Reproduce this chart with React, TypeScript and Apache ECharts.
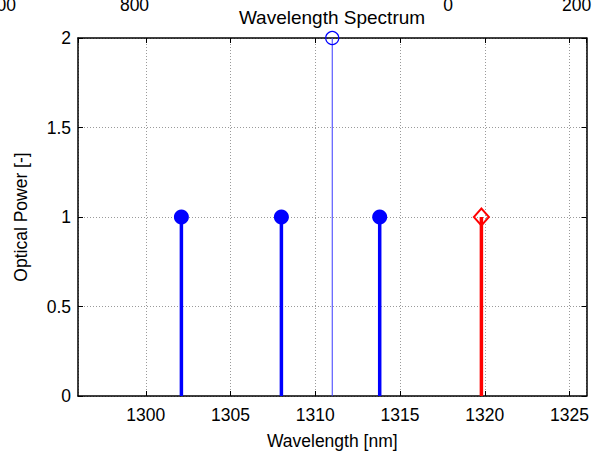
import React, { useEffect, useRef } from "react";
import * as echarts from "echarts";

// Data
const blueWavelengths = [1302.1, 1308.0, 1313.8];
const bluePowers = [1, 1, 1];
const redWavelengths = [1319.8];
const redPowers = [1];
const pilotWavelengths = [1311.0];
const pilotPowers = [2];

const xMin = 1296;
const xMax = 1326;
const yTicks = [0, 0.5, 1, 1.5, 2];

// Clipped tick labels of neighbouring subplots seen at the top edge
const strayLabels = ["00", "800", "0", "200"];

const FONT = "'Liberation Sans', Arial, sans-serif";

function pairs(xs: number[], ys: number[]) {
  return xs.map((x, i) => [x, ys[i]]);
}

function stemSeries(data: number[][], color: string, width: number) {
  return {
    type: "custom",
    data,
    clip: false,
    z: 3,
    renderItem: (params: any, api: any) => {
      const x = api.value(0);
      const y = api.value(1);
      const p0 = api.coord([x, 0]);
      const p1 = api.coord([x, y]);
      return {
        type: "line",
        shape: { x1: p0[0], y1: p0[1], x2: p1[0], y2: p1[1] },
        style: { stroke: color, lineWidth: width },
      };
    },
  };
}

export default function App() {
  const ref = useRef<HTMLDivElement>(null);
  useEffect(() => {
    if (!ref.current) return;
    const chart = echarts.init(ref.current, null, { renderer: "svg" });
    const gridLine = { show: true, lineStyle: { color: "#9a9a9a", type: [1, 2], width: 1 } };
    const labelPos = [
      { x: 16, align: "right" },
      { x: 134.5, align: "center" },
      { x: 448, align: "center" },
      { x: 562, align: "left" },
    ];
    chart.setOption({
      animation: false,
      backgroundColor: "#ffffff",
      textStyle: { fontFamily: FONT },
      grid: { left: 78, top: 38, right: 5, bottom: 58, containLabel: false },
      xAxis: [
        {
          type: "value",
          min: xMin,
          max: xMax,
          splitNumber: 6,
          name: "Wavelength [nm]",
          nameLocation: "middle",
          nameGap: 36,
          nameTextStyle: { color: "#000", fontSize: 17.5, fontFamily: FONT },
          axisLine: { show: true, onZero: false, lineStyle: { color: "#000", width: 1.5 } },
          axisTick: { show: true, inside: true, length: 5, lineStyle: { color: "#000" } },
          axisLabel: {
            color: "#000",
            fontSize: 17.5,
            fontFamily: FONT,
            margin: 10,
            showMinLabel: false,
            showMaxLabel: false,
            formatter: (v: number) => (v % 5 === 0 ? String(v) : ""),
          },
          splitLine: gridLine,
        },
        {
          type: "value",
          position: "top",
          min: xMin,
          max: xMax,
          splitNumber: 6,
          axisLine: { show: true, onZero: false, lineStyle: { color: "#000", width: 1.5 } },
          axisTick: { show: true, inside: true, length: 5, lineStyle: { color: "#000" } },
          axisLabel: { show: false },
          splitLine: { show: false },
        },
      ],
      yAxis: [
        {
          type: "value",
          min: yTicks[0],
          max: yTicks[yTicks.length - 1],
          interval: 0.5,
          name: "Optical Power [-]",
          nameLocation: "middle",
          nameGap: 48,
          nameTextStyle: { color: "#000", fontSize: 17.5, fontFamily: FONT },
          axisLine: { show: true, onZero: false, lineStyle: { color: "#000", width: 1.5 } },
          axisTick: { show: true, inside: true, length: 5, lineStyle: { color: "#000" } },
          axisLabel: { color: "#000", fontSize: 17.5, fontFamily: FONT, margin: 7 },
          splitLine: gridLine,
        },
        {
          type: "value",
          position: "right",
          min: yTicks[0],
          max: yTicks[yTicks.length - 1],
          interval: 0.5,
          axisLine: { show: true, onZero: false, lineStyle: { color: "#000", width: 1.5 } },
          axisTick: { show: true, inside: true, length: 5, lineStyle: { color: "#000" } },
          axisLabel: { show: false },
          splitLine: { show: false },
        },
      ],
      graphic: [
        {
          type: "text",
          x: 332,
          y: 17,
          style: {
            text: "Wavelength Spectrum",
            fill: "#000",
            fontSize: 19,
            fontFamily: FONT,
            align: "center",
            verticalAlign: "middle",
          },
        },
        ...strayLabels.map((t, i) => ({
          type: "text",
          x: labelPos[i].x,
          y: 5,
          style: {
            text: t,
            fill: "#000",
            fontSize: 17.5,
            fontFamily: FONT,
            align: labelPos[i].align,
            verticalAlign: "middle",
          },
        })),
      ],
      series: [
        stemSeries(pairs(pilotWavelengths, pilotPowers), "#3a3aff", 1),
        stemSeries(pairs(blueWavelengths, bluePowers), "#0000ff", 3.5),
        stemSeries(pairs(redWavelengths, redPowers), "#ff0000", 3.5),
        {
          type: "scatter",
          data: pairs(blueWavelengths, bluePowers),
          symbol: "circle",
          symbolSize: 15,
          clip: false,
          z: 4,
          itemStyle: { color: "#0000ff", opacity: 1 },
        },
        {
          type: "scatter",
          data: pairs(pilotWavelengths, pilotPowers),
          symbol: "circle",
          symbolSize: 13,
          clip: false,
          z: 4,
          itemStyle: { color: "none", borderColor: "#0000ff", borderWidth: 1.2, opacity: 1 },
        },
        {
          type: "scatter",
          data: pairs(redWavelengths, redPowers),
          symbol: "diamond",
          symbolSize: [15, 17],
          clip: false,
          z: 4,
          itemStyle: { color: "none", borderColor: "#ff0000", borderWidth: 2, opacity: 1 },
        },
      ],
    });
    return () => chart.dispose();
  }, []);
  return <div ref={ref} style={{ width: 592, height: 455, position: "absolute", left: 0, top: 0 }} />;
}
